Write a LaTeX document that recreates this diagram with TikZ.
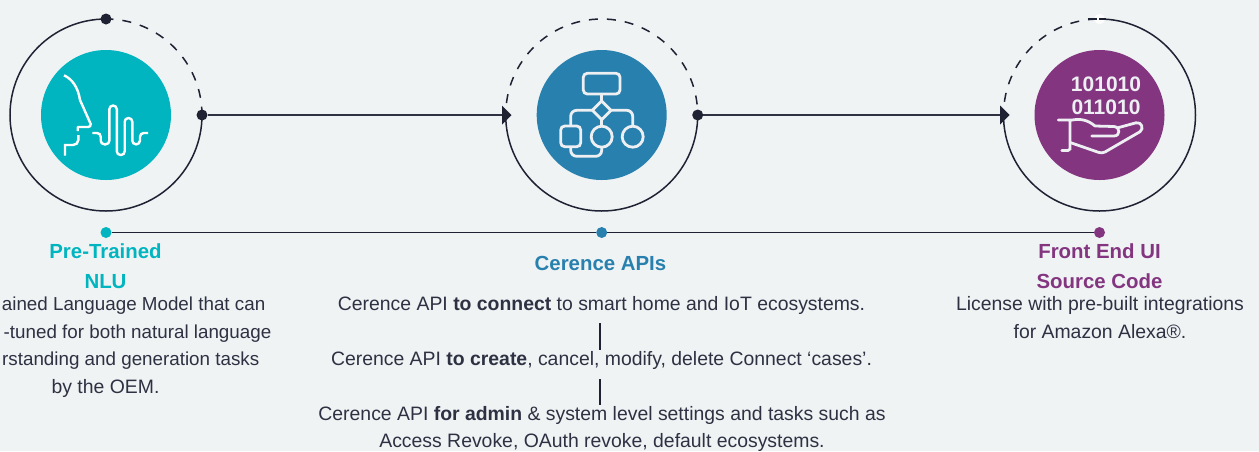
\documentclass[tikz,border=0pt]{standalone}
\usepackage{fontspec}
\setmainfont{Liberation Sans}
\usetikzlibrary{arrows.meta}
\definecolor{bgc}{HTML}{EFF3F4}
\definecolor{teal}{HTML}{00B5BF}
\definecolor{bluec}{HTML}{2880AE}
\definecolor{purp}{HTML}{833580}
\definecolor{dark}{HTML}{1E2233}
\definecolor{bodyc}{HTML}{2D3142}
\definecolor{iconc}{HTML}{EDEFF2}
\tikzset{
  ring/.style={line width=1.5pt,draw=dark},
  ringdash/.style={line width=1.5pt,draw=dark,dash pattern=on 9pt off 9pt,dash phase=#1},
  disc/.style={circle,minimum size=130pt,inner sep=0pt,fill=#1},
  dot/.style={circle,minimum size=11pt,inner sep=0pt,fill=#1},
  link/.style={line width=2pt,draw=bodyc,-{Triangle[length=9.5pt,width=19pt,fill=dark,line width=0pt]}},
  head/.style={anchor=base,text=#1,inner sep=0pt,font=\fontsize{20.4}{21}\selectfont\bfseries},
  body/.style={anchor=base,text=bodyc,inner sep=0pt,font=\fontsize{19.4}{20}\selectfont},
  bodyr/.style={anchor=base east,text=bodyc,inner sep=0pt,font=\fontsize{18.8}{20}\selectfont},
  icon/.style={draw=iconc,line width=2.8pt},
  iconw/.style={draw=white,line width=2.4pt},
  bits/.style={anchor=base,inner sep=0pt,text=iconc,font=\fontsize{21}{21}\selectfont\bfseries},
}
\begin{document}
\begin{tikzpicture}[x=1pt,y=-1pt]
\useasboundingbox (0,0) rectangle (1259,451);
\clip (0,0) rectangle (1259,451);
\fill[bgc] (0,0) rectangle (1259,451);

% coloured discs
\node[disc=teal] (d1) at (106,115) {};
\node[disc=bluec] (d2) at (601.7,115) {};
\node[disc=purp] (d3) at (1099.5,115) {};

% rings
\draw[ring] (106,19) arc[start angle=90,end angle=360,radius=96pt];
\draw[ringdash=1.5] (106,19) arc[start angle=90,end angle=0,radius=96pt];
\draw[ring] (505.7,115) arc[start angle=180,end angle=360,radius=96pt];
\draw[ringdash=6] (505.7,115) arc[start angle=180,end angle=0,radius=96pt];
\draw[ring] (1099.5,19) arc[start angle=90,end angle=-180,radius=96pt];
\draw[ringdash=15.5] (1099.5,19) arc[start angle=90,end angle=180,radius=96pt];

% ring dots, arrows
\node[dot=dark] (top1) at (106,19) {};
\node[circle,minimum size=10.5pt,inner sep=0pt,fill=white,opacity=.9] (top3) at (1099.5,19) {};
\draw[ring] (1088,19) -- (1096.7,19) (1099.2,19) -- (1106,19);
\node[dot=dark] (r1) at (202,115) {};
\node[dot=dark] (r2) at (697.7,115) {};
\coordinate (in2) at (511.5,115);
\coordinate (in3) at (1009.5,115);
\draw[link] (r1) -- (in2);
\draw[link] (r2) -- (in3);

% timeline
\node[dot=teal] (t1) at (106,232.5) {};
\node[dot=bluec] (t2) at (601.7,232.5) {};
\node[dot=purp] (t3) at (1099.5,232.5) {};
\draw[line width=1.3pt,draw=dark] (t1) -- (t2);
\draw[line width=1.3pt,draw=dark] (t2) -- (t3);

% face + wave icon
\draw[iconw,line join=round] (64,75.3) .. controls (72,79) and (78,87) .. (80,100) -- (90.7,124) .. controls (90.7,126) and (90,127) .. (88,127) -- (77.7,127) -- (77.7,131);
\draw[iconw] (78.3,135) -- (78.3,140) .. controls (78.3,143) and (76,145) .. (73,145) -- (65,145) -- (65,155.7);
\draw[iconw,rounded corners=3.7pt] (92.3,133) -- (100.7,133) -- (100.7,144.3) -- (109.4,144.3) -- (109.4,105.5) -- (116.8,105.5) -- (116.8,155) -- (124.7,155) -- (124.7,118) -- (132.3,118) -- (132.3,144.3) -- (140,144.3) -- (140,133) -- (148,133);

% flow chart icon
\draw[icon,rounded corners=4pt] (583.3,73.3) rectangle (620,94);
\draw[icon,line join=round] (601.7,101) -- (611,110.3) -- (601.7,119.6) -- (592.4,110.3) -- cycle;
\draw[icon] (601.7,94) -- (601.7,101);
\draw[icon] (601.7,119.6) -- (601.7,126.2);
\draw[icon,rounded corners=6pt] (592.4,110.3) -- (570.7,110.3) -- (570.7,126);
\draw[icon,rounded corners=6pt] (611,110.3) -- (632.7,110.3) -- (632.7,126);
\draw[icon,rounded corners=4pt] (560.7,126) rectangle (580.7,146.7);
\draw[icon] (601.7,136.7) circle[radius=10.5pt];
\draw[icon] (632.7,136.7) circle[radius=10.5pt];
\draw[icon,rounded corners=6pt] (570.7,146.7) -- (570.7,156.3) -- (601.7,156.3) -- (601.7,147.2);

% hand icon
\node[bits] (b1) at (1106,91) {101010};
\node[bits] (b2) at (1106,114) {011010};
\draw[icon,line cap=round] (1058.3,120) -- (1070,120) -- (1070,149) -- (1068,150.5) -- (1061.7,150.5);
\draw[icon,line cap=round,line join=round] (1070,120.5) .. controls (1080,118) and (1088,120) .. (1095,126) -- (1114,126.5) .. controls (1120.5,127) and (1120.5,136) .. (1114,136) -- (1091.7,136);
\draw[icon,line cap=round,line join=round] (1117,128) -- (1136,122.8) .. controls (1142,121.5) and (1144,129) .. (1140,131.7) -- (1105,152) .. controls (1103,153) and (1101,153) .. (1099,152.5) -- (1070.7,142.7);

% headings
\node[head=teal] (h1a) at (105.5,258.3) {Pre-Trained};
\node[head=teal] (h1b) at (105.5,288) {NLU};
\node[head=bluec] (h2) at (600.5,270.5) {Cerence APIs};
\node[head=purp] (h3a) at (1099.5,258.3) {Front End UI};
\node[head=purp] (h3b) at (1099.5,288) {Source Code};

% left body
\node[bodyr] (l1) at (265.5,310.5) {ained Language Model that can};
\node[bodyr] (l2) at (271.5,338) {-tuned for both natural language};
\node[bodyr] (l3) at (259.5,365.5) {rstanding and generation tasks};
\node[body] (l4) at (105.5,393) {by the OEM.};

% centre body
\node[body] (c1) at (601.5,310.5) {Cerence API \textbf{to connect} to smart home and IoT ecosystems.};
\node[body] (c2) at (601.5,365.5) {Cerence API \textbf{to create}, cancel, modify, delete Connect ‘cases’.};
\node[body] (c3) at (602,420) {Cerence API \textbf{for admin} \& system level settings and tasks such as};
\node[body] (c4) at (602,447.5) {Access Revoke, OAuth revoke, default ecosystems.};
\coordinate (b1a) at (600.3,323);
\coordinate (b1b) at (600.3,350);
\coordinate (b2a) at (600.3,379);
\coordinate (b2b) at (600.3,405);
\draw[line width=2pt,draw=dark] (b1a) -- (b1b);
\draw[line width=2pt,draw=dark] (b2a) -- (b2b);

% right body
\node[body] (r1t) at (1100,310.5) {License with pre-built integrations};
\node[body] (r2t) at (1100,338) {for Amazon Alexa®.};
\end{tikzpicture}
\end{document}
